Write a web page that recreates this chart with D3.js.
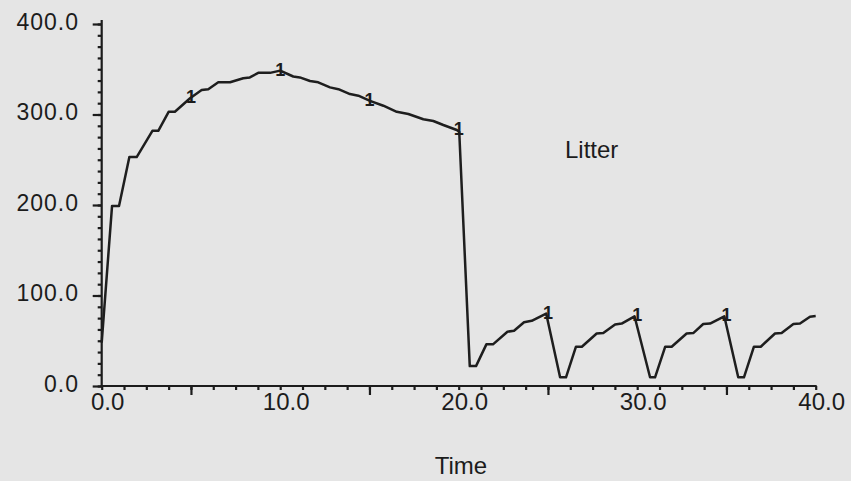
<!DOCTYPE html>
<html><head><meta charset="utf-8">
<script src="https://cdn.jsdelivr.net/npm/d3@7"></script>
<style>
html,body{margin:0;padding:0;background:#e5e5e5;}
svg{display:block;}
text{font-family:"Liberation Sans",Arial,Helvetica,sans-serif;fill:#1c1c1c;}
</style></head>
<body>
<svg id="chart" width="851" height="481"></svg>
<script>
const timeValues = [0,0.58,0.97,1.55,1.96,2.84,3.17,3.75,4.1,4.95,5.6,5.97,6.53,7.19,7.93,8.3,8.77,9.43,10.0,10.73,11.1,11.67,12.13,12.79,13.26,13.91,14.38,15.03,15.78,16.53,17.18,18.02,18.58,19.14,19.89,20.03,20.62,20.97,21.55,21.92,22.73,23.1,23.66,24.09,24.9,25.68,26.01,26.57,26.9,27.73,28.1,28.76,29.13,29.85,30.72,31.0,31.57,31.93,32.77,33.14,33.7,34.08,34.88,35.66,35.98,36.54,36.92,37.72,38.09,38.75,39.12,39.68,40.0];
const litterValues = [48,199,199,253,253,282,282,303,303,318,327,328,335.6,335.6,340,341,346,346,348.5,342,341,337,335.6,330,328,322.6,320.8,315,309.7,303,300.6,294.7,292.8,288.4,282.9,281,22,22,46,46,60,61,70.5,72,80,9.6,9.6,43.4,43.4,58,58.5,68,69,77,9.6,9.6,43.4,43.4,58,58.5,68.5,69,77,9.6,9.6,43.4,43.4,58,58.5,68.5,69,76.6,77.3];
const markerTimes = [5,10,15,20,25,30,35];
const markerValues = [319,349,316,284,81,78,78];
const xTickValues = [0,10,20,30,40];
const xTickLabels = ["0.0","10.0","20.0","30.0","40.0"];
const yTickValues = [0,100,200,300,400];
const yTickLabels = ["0.0","100.0","200.0","300.0","400.0"];
const seriesLabel = "Litter";
const xAxisTitle = "Time";

const svg = d3.select("#chart");
const x = d3.scaleLinear().domain([0,40]).range([101.7,815.7]);
const y = d3.scaleLinear().domain([0,400]).range([386,24]);

const axisColor = "#1c1c1c";
const yMinor = d3.range(0, 400.001, 12.5);
const xMinor = d3.range(0, 40.001, 1.25);

const yAxisMinor = d3.axisLeft(y).tickValues(yMinor).tickSize(4).tickFormat("");
const yAxisMajor = d3.axisLeft(y).tickValues(yTickValues).tickSize(9).tickFormat("");
const xAxisMinor = d3.axisBottom(x).tickValues(xMinor).tickSize(4).tickFormat("");
const xAxisMajor = d3.axisBottom(x).tickValues([5,15,25,35]).tickSize(9).tickFormat("");

function style(g){
  g.selectAll("path").remove();
  g.selectAll("line").attr("stroke", axisColor).attr("stroke-width", 2.2);
}
svg.append("g").attr("transform","translate(101.7,0)").call(yAxisMinor).call(style);
svg.append("g").attr("transform","translate(101.7,0)").call(yAxisMajor).call(style);
svg.append("g").attr("transform","translate(0,386)").call(xAxisMinor).call(style);
svg.append("g").attr("transform","translate(0,386)").call(xAxisMajor).call(style);

svg.append("line").attr("x1",x(0)).attr("x2",x(0)).attr("y1",20).attr("y2",y(0)+1)
  .attr("stroke",axisColor).attr("stroke-width",2.2);
svg.append("line").attr("x1",x(0)-1).attr("x2",x(40)+1).attr("y1",y(0)).attr("y2",y(0))
  .attr("stroke",axisColor).attr("stroke-width",2.2);

svg.append("g").selectAll("text").data(yTickValues).join("text")
  .attr("x", 79).attr("y", d => y(d) + 5.5)
  .attr("text-anchor","end")
  .attr("font-size", 23).attr("letter-spacing", 1)
  .text((d,i) => yTickLabels[i]);

svg.append("g").selectAll("text").data(xTickValues).join("text")
  .attr("x", d => x(d) + 6).attr("y", 410)
  .attr("text-anchor","middle")
  .attr("font-size", 24)
  .text((d,i) => xTickLabels[i]);

const pts = timeValues.map((t,i) => [t, litterValues[i]]);
svg.append("path").datum(pts)
  .attr("fill","none").attr("stroke","#1e1e1e").attr("stroke-width",2.5)
  .attr("stroke-linejoin","round")
  .attr("d", d3.line().x(d => x(d[0])).y(d => y(d[1])));

svg.append("g").selectAll("text").data(markerTimes).join("text")
  .attr("x", d => x(d)).attr("y", (d,i) => y(markerValues[i]) + 6)
  .attr("text-anchor","middle")
  .attr("font-size", 18).attr("font-weight","bold")
  .text("1");

svg.append("text").attr("x",565).attr("y",158).attr("font-size",24).text(seriesLabel);
svg.append("text").attr("x",461).attr("y",474).attr("text-anchor","middle").attr("font-size",24).text(xAxisTitle);
</script>
</body></html>
